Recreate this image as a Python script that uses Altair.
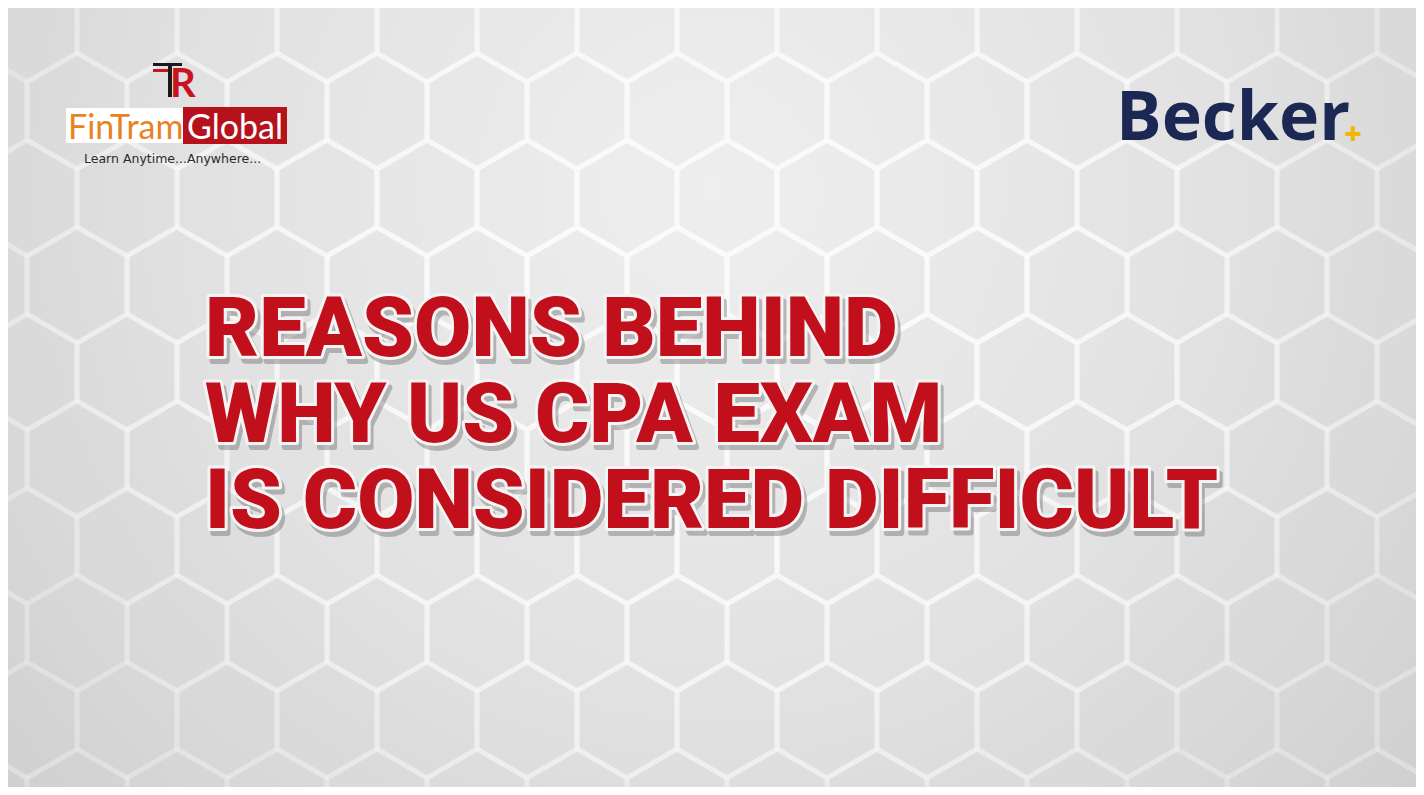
import altair as alt
import pandas as pd

# ---------------- content ----------------
title_lines = ["REASONS BEHIND", "WHY US CPA EXAM", "IS CONSIDERED DIFFICULT"]
title_baselines = [356, 442, 528]          # reference pixel rows
title_left = 205
brand_left_words = ["FinTram", "Global"]
tagline = "Learn Anytime...Anywhere..."
brand_right = "Becker"

# ---------------- canvas ----------------
W, H = 1408, 779
OX, OY = 8, 8   # reference pixel -> chart coordinate offset

def px(v):
    return v - OX

def py(v):
    return v - OY

xs = alt.Scale(domain=[0, W], nice=False, zero=False)
ys = alt.Scale(domain=[0, H], nice=False, zero=False, reverse=True)

def X(f):
    return alt.X(f, type="quantitative", scale=xs, axis=None)

def Y(f):
    return alt.Y(f, type="quantitative", scale=ys, axis=None)

# ---------------- background ----------------
bg = alt.Chart(pd.DataFrame({"a": [0]})).mark_rect(
    color=alt.RadialGradient(
        gradient="radial",
        stops=[alt.GradientStop(color="#eeeeee", offset=0),
               alt.GradientStop(color="#e0e0e0", offset=0.5),
               alt.GradientStop(color="#c8c8c8", offset=1)],
        x1=0.5, y1=0.35, r1=0.0, x2=0.5, y2=0.35, r2=0.75),
).encode(x=alt.value(0), x2=alt.value(W), y=alt.value(0), y2=alt.value(H))

# hexagon lattice (decorative)
hex_r = 57.7
rows = []
for j in range(-3, 9):
    cy = 198 + 87 * j
    off = 27 if j % 2 == 0 else 77
    for k in range(-1, 16):
        cx = off + 100 * k
        d = ((cx - 712) ** 2 + ((cy - 300) * 1.3) ** 2) ** 0.5
        op = max(0.2, min(0.95, 1.05 - d / 900))
        rows.append({"x": px(cx), "y": py(cy), "op": op})
hexdf = pd.DataFrame(rows)
hex_path = "M0,-1L0.866,-0.5L0.866,0.5L0,1L-0.866,0.5L-0.866,-0.5Z"
hexes = alt.Chart(hexdf).mark_point(
    shape=hex_path, size=(2 * hex_r) ** 2, fill="#ffffff", fillOpacity=0.05,
    stroke="#fafafa", strokeWidth=5, opacity=1, clip=True,
).encode(x=X("x"), y=Y("y"), strokeOpacity=alt.StrokeOpacity("op:Q", scale=None))

# ---------------- title ----------------
tdf = pd.DataFrame({"t": title_lines,
                    "x": [px(title_left)] * 3,
                    "y": [py(b) for b in title_baselines]})
tfont = dict(font="Roboto", fontWeight=900, fontSize=83, align="left",
             baseline="alphabetic")
t_shadow = alt.Chart(tdf).mark_text(
    color="#2e2e2e", opacity=0.28, dx=3, dy=5, stroke="#2e2e2e",
    strokeWidth=6, strokeJoin="round", **tfont
).encode(x=X("x"), y=Y("y"), text="t:N")
t_outline = alt.Chart(tdf).mark_text(
    color="#f4f4f4", stroke="#f4f4f4", strokeWidth=6, strokeJoin="round", **tfont
).encode(x=X("x"), y=Y("y"), text="t:N")
t_fill = alt.Chart(tdf).mark_text(color="#c1101b", **tfont).encode(
    x=X("x"), y=Y("y"), text="t:N")

# ---------------- FinTram logo ----------------
boxes = pd.DataFrame({
    "x": [px(66), px(183), px(153), px(153), px(168)],
    "x2": [px(183), px(287), px(182), px(170), px(172)],
    "y": [py(108), py(107), py(63), py(69), py(63)],
    "y2": [py(143), py(144), py(66), py(72), py(97)],
    "c": ["#ffffff", "#b5121c", "#1a1a1a", "#c8141f", "#1a1a1a"],
})
logo_boxes = alt.Chart(boxes).mark_rect().encode(
    x=X("x"), x2="x2", y=Y("y"), y2="y2", color=alt.Color("c:N", scale=None))

ldf = pd.DataFrame({"t": brand_left_words, "x": [px(68), px(187)],
                    "y": [py(139), py(139)], "c": ["#e8831f", "#ffffff"]})
logo_words = alt.Chart(ldf).mark_text(
    font="Lato", fontSize=34, align="left", baseline="alphabetic"
).encode(x=X("x"), y=Y("y"), text="t:N", color=alt.Color("c:N", scale=None))

rdf = pd.DataFrame({"t": ["R"], "x": [px(170)], "y": [py(97)]})
logo_r = alt.Chart(rdf).mark_text(
    font="Lato", fontWeight="bold", fontSize=40, align="left",
    baseline="alphabetic", color="#c8141f"
).encode(x=X("x"), y=Y("y"), text="t:N")

tagdf = pd.DataFrame({"t": [tagline], "x": [px(84)], "y": [py(163)]})
logo_tag = alt.Chart(tagdf).mark_text(
    font="DejaVu Sans", fontSize=12.5, align="left",
    baseline="alphabetic", color="#2b2b2b"
).encode(x=X("x"), y=Y("y"), text="t:N")

# ---------------- Becker logo ----------------
bdf = pd.DataFrame({"t": [brand_right], "x": [px(1116)], "y": [py(140)]})
becker = alt.Chart(bdf).mark_text(
    font="Open Sans", fontWeight=700, fontSize=68, align="left",
    baseline="alphabetic", color="#1b2853"
).encode(x=X("x"), y=Y("y"), text="t:N")
pdf = pd.DataFrame({"t": ["+"], "x": [px(1353)], "y": [py(144)]})
plus = alt.Chart(pdf).mark_text(
    font="Open Sans", fontWeight=800, fontSize=30, align="center",
    baseline="alphabetic", color="#f2b705"
).encode(x=X("x"), y=Y("y"), text="t:N")

chart = alt.layer(
    bg, hexes, t_shadow, t_outline, t_fill,
    logo_boxes, logo_words, logo_r, logo_tag, becker, plus
).properties(
    width=W, height=H, padding=0, autosize=alt.AutoSizeParams(type="none")
).configure_view(stroke=None)

chart.save("out.html", embed_options={"renderer": "svg", "actions": False})
